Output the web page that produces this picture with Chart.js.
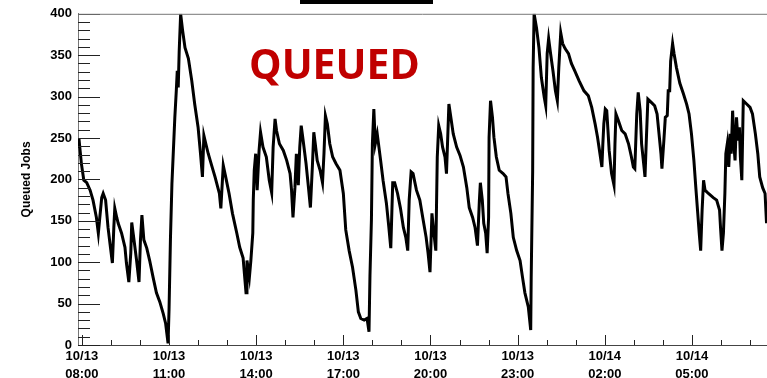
<!DOCTYPE html>
<html>
<head>
<meta charset="utf-8">
<script src="https://cdn.jsdelivr.net/npm/chart.js@4.4.1/dist/chart.umd.min.js"></script>
<style>
  html, body { margin: 0; padding: 0; background: #fff; overflow: hidden; }
  #chart { display: block; }
</style>
</head>
<body>
<canvas id="chart" width="767" height="378"></canvas>
<script>
// minutes since 10/13 00:00
const minutes = [
  472, 474, 479, 484, 490, 497, 503, 510, 514, 517, 521, 524,
  529, 534, 539, 543, 546, 548, 552, 555, 562, 569, 572, 577,
  581, 583, 587, 593, 598, 601, 604, 608, 614, 620, 627, 634,
  641, 648, 653, 658, 660, 663, 666, 669, 672, 675, 677, 679,
  681, 684, 688, 693, 700, 707, 713, 720, 725, 729, 732, 736,
  741, 748, 755, 764, 767, 772, 777, 784, 791, 800, 806, 813,
  819, 821, 826, 829, 833, 834, 836, 839, 842, 846, 849, 854,
  861, 867, 872, 875, 879, 882, 888, 896, 903, 910, 913, 916,
  920, 923, 927, 930, 933, 937, 943, 948, 952, 956, 959, 962,
  966, 972, 977, 980, 983, 987, 992, 998, 1005, 1013, 1020, 1025,
  1032, 1039, 1046, 1051, 1056, 1063, 1069, 1073, 1075, 1078, 1080, 1083,
  1086, 1090, 1097, 1102, 1109, 1114, 1118, 1122, 1126, 1132, 1138, 1144,
  1149, 1153, 1156, 1160, 1164, 1171, 1178, 1184, 1191, 1195, 1199, 1203,
  1207, 1211, 1214, 1217, 1221, 1225, 1230, 1233, 1238, 1242, 1247, 1254,
  1261, 1268, 1275, 1280, 1287, 1292, 1297, 1301, 1303, 1307, 1310, 1314,
  1317, 1320, 1321, 1324, 1328, 1331, 1336, 1342, 1350, 1356, 1360, 1366,
  1371, 1378, 1385, 1390, 1395, 1402, 1407, 1408, 1411, 1412, 1414, 1419,
  1424, 1429, 1435, 1438, 1441, 1444, 1448, 1453, 1458, 1462, 1465, 1469,
  1473, 1478, 1485, 1491, 1498, 1507, 1517, 1526, 1533, 1540, 1545, 1550,
  1554, 1556, 1558, 1561, 1564, 1567, 1569, 1574, 1579, 1581, 1583, 1588,
  1595, 1602, 1609, 1615, 1619, 1622, 1626, 1629, 1633, 1636, 1641, 1643,
  1646, 1649, 1656, 1663, 1668, 1672, 1676, 1678, 1682, 1685, 1689, 1691,
  1694, 1696, 1700, 1703, 1708, 1715, 1722, 1729, 1734, 1739, 1744, 1748,
  1752, 1755, 1758, 1761, 1764, 1767, 1774, 1784, 1791, 1797, 1799, 1802,
  1805, 1808, 1810, 1813, 1816, 1819, 1821, 1824, 1827, 1829, 1832, 1835,
  1838, 1840, 1843, 1846, 1853, 1860, 1865, 1871, 1876, 1880, 1886, 1891,
  1894
];
const queued = [
  240, 249, 219, 199, 196, 187, 175, 154, 135, 154, 178, 183,
  175, 142, 118, 99, 142, 165, 154, 147, 135, 118, 99, 76,
  111, 148, 130, 102, 76, 127, 157, 127, 117, 102, 82, 63,
  52, 38, 26, 2, 42, 130, 195, 235, 275, 307, 331, 311,
  355, 400, 380, 359, 346, 319, 291, 263, 231, 203, 253, 243,
  231, 217, 203, 183, 165, 217, 203, 183, 159, 135, 118, 105,
  63, 102, 82, 102, 135, 175, 211, 231, 187, 235, 257, 239,
  227, 199, 184, 239, 273, 259, 243, 235, 223, 207, 187, 154,
  190, 231, 193, 239, 265, 247, 219, 190, 166, 215, 257, 243,
  223, 211, 196, 231, 277, 267, 243, 227, 219, 211, 183, 139,
  114, 94, 66, 40, 32, 30, 32, 16, 84, 151, 243, 285,
  243, 255, 223, 199, 171, 142, 117, 196, 196, 183, 165, 142,
  130, 114, 175, 209, 207, 187, 175, 154, 130, 111, 88, 159,
  135, 114, 227, 265, 255, 239, 227, 207, 291, 275, 255, 239,
  229, 215, 190, 166, 154, 142, 120, 175, 196, 175, 147, 135,
  111, 154, 251, 295, 275, 251, 227, 211, 207, 203, 183, 159,
  130, 114, 102, 82, 63, 46, 18, 82, 209, 335, 400, 383,
  359, 323, 299, 289, 352, 370, 352, 331, 307, 295, 335, 377,
  364, 358, 352, 340, 331, 319, 307, 301, 287, 267, 251, 231,
  215, 243, 267, 285, 283, 255, 235, 207, 193, 243, 279, 271,
  259, 255, 243, 227, 215, 213, 279, 305, 283, 243, 215, 203,
  251, 297, 293, 289, 279, 255, 231, 213, 247, 275, 277, 307,
  307, 343, 364, 352, 335, 316, 304, 291, 279, 255, 223, 190,
  159, 135, 114, 163, 199, 187, 183, 178, 175, 163, 142, 114,
  135, 183, 231, 243, 215, 255, 231, 283, 239, 223, 275, 247,
  263, 227, 199, 295, 291, 287, 279, 255, 231, 203, 190, 183,
  147
];

// labelled x ticks every 3 hours (minutes since 10/13 00:00)
const xMajorTicks = [480, 660, 840, 1020, 1200, 1380, 1560, 1740];
const yTicks = [0, 50, 100, 150, 200, 250, 300, 350, 400];
const xMin = 472, xMax = 1895;

function stampLabel(m) {
  const day = 13 + Math.floor(m / 1440);
  const mm = m % 1440;
  const hh = String(Math.floor(mm / 60)).padStart(2, '0');
  const mi = String(mm % 60).padStart(2, '0');
  return ['10/' + day, hh + ':' + mi];
}

const FONT = 'Liberation Sans, Arial, Helvetica, sans-serif';

// ROOT-style inner tick marks, top frame, title remnant and label
const decorations = {
  id: 'decorations',
  afterDraw(chart) {
    const { ctx, chartArea: a, scales: { x, y } } = chart;
    ctx.save();
    ctx.strokeStyle = '#222';
    ctx.lineWidth = 1;
    ctx.beginPath();
    for (let v = 0; v <= 400; v += 10) {
      const py = Math.round(y.getPixelForValue(v)) + 0.5;
      const len = v % 50 === 0 ? 22 : 12;
      ctx.moveTo(a.left, py);
      ctx.lineTo(a.left + len, py);
    }
    for (let m = 480; m <= xMax; m += 60) {
      const px = Math.round(x.getPixelForValue(m)) + 0.5;
      const len = (m - 480) % 180 === 0 ? 10 : 5;
      ctx.moveTo(px, a.bottom);
      ctx.lineTo(px, a.bottom - len);
    }
    ctx.stroke();

    ctx.strokeStyle = '#777';
    ctx.beginPath();
    ctx.moveTo(a.left, a.top + 0.5);
    ctx.lineTo(a.right, a.top + 0.5);
    ctx.stroke();

    ctx.fillStyle = '#000';
    ctx.fillRect(300, 0, 133, 4);

    ctx.fillStyle = '#c00000';
    ctx.font = 'bold 41px "Open Sans", sans-serif';
    ctx.textBaseline = 'alphabetic';
    ctx.textAlign = 'left';
    ctx.fillText('QUEUED', 249, 79);
    ctx.restore();
  }
};

new Chart(document.getElementById('chart'), {
  type: 'line',
  data: {
    datasets: [{
      data: minutes.map((m, i) => ({ x: m, y: queued[i] })),
      borderColor: '#000',
      borderWidth: 3,
      pointRadius: 0,
      tension: 0,
      fill: false
    }]
  },
  options: {
    responsive: false,
    animation: false,
    layout: { padding: { top: 13, right: 0, left: 0, bottom: 0 } },
    plugins: {
      legend: { display: false },
      tooltip: { enabled: false }
    },
    scales: {
      x: {
        type: 'linear',
        min: xMin,
        max: xMax,
        afterFit: s => { s.height = 33; },
        afterBuildTicks: s => { s.ticks = xMajorTicks.map(v => ({ value: v })); },
        grid: { display: false, drawTicks: false },
        border: { display: true, color: '#444', width: 1 },
        ticks: {
          autoSkip: false,
          maxRotation: 0,
          padding: 3,
          color: '#000',
          font: { family: FONT, size: 13, weight: 'bold', lineHeight: 1.35 },
          callback: v => stampLabel(v)
        }
      },
      y: {
        min: 0,
        max: 400,
        afterFit: s => { s.width = 78; },
        afterBuildTicks: s => { s.ticks = yTicks.map(v => ({ value: v })); },
        grid: { display: false, drawTicks: false },
        border: { display: true, color: '#777', width: 1 },
        ticks: {
          padding: 6,
          color: '#000',
          font: { family: FONT, size: 13, weight: 'bold' }
        },
        title: {
          display: true,
          text: 'Queued Jobs',
          color: '#000',
          padding: { top: 19, bottom: 0 },
          font: { family: FONT, size: 12, weight: 'bold' }
        }
      }
    }
  },
  plugins: [decorations]
});
</script>
</body>
</html>
